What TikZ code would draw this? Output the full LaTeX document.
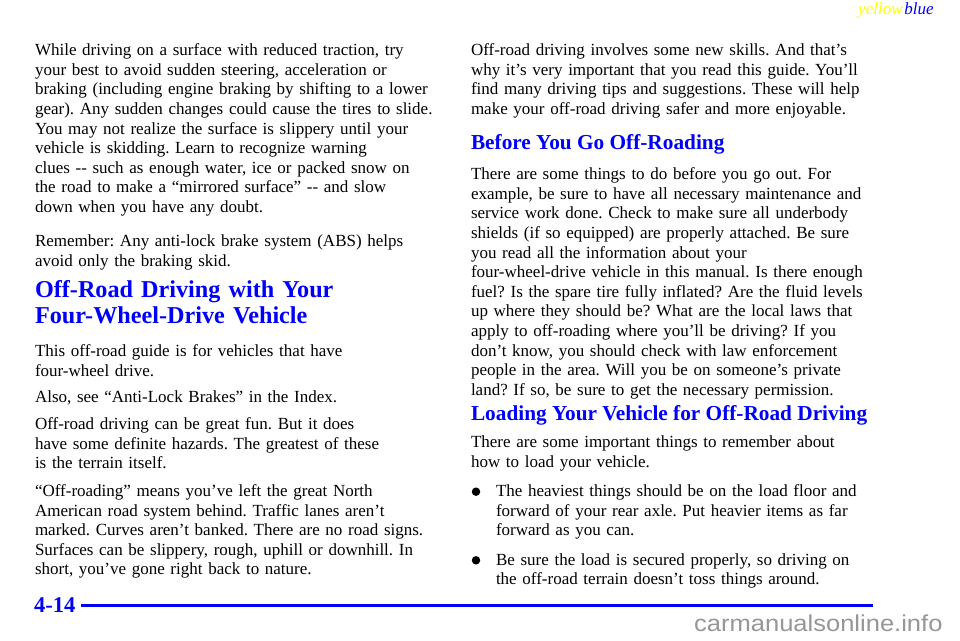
\documentclass[tikz,border=0pt]{standalone}
\usepackage{fontspec}
\setmainfont{Liberation Serif}
\newfontfamily\marksans{Liberation Sans}
\usetikzlibrary{positioning}
\frenchspacing

\definecolor{headblue}{RGB}{0,0,250}
\definecolor{tagyellow}{RGB}{255,255,0}
\definecolor{markgray}{RGB}{150,150,150}

\tikzset{
  para/.style={anchor=base west, inner sep=0pt, outer sep=0pt, text width=#1,
    align=left, font=\fontsize{17}{19.6}\selectfont},
  para/.default=440pt,
  bighead/.style={anchor=base west, inner sep=0pt, outer sep=0pt, text width=430pt,
    align=left, text=headblue, font=\bfseries\fontsize{24.2}{25.5}\selectfont},
  subhead/.style={anchor=base west, inner sep=0pt, outer sep=0pt,
    text=headblue, font=\bfseries\fontsize{21.3}{22}\selectfont},
  dot/.style={circle, fill=black, inner sep=0pt, minimum size=8.5pt}
}

\begin{document}
\begin{tikzpicture}[x=1pt, y=-1pt]
    \useasboundingbox[fill=white] (0,0) rectangle (960,640);

    % header tag
    \node[anchor=base west, inner sep=0pt, text=tagyellow, font=\itshape\fontsize{17}{17}\selectfont] (yellowtag) at (858,14) {yellow};
    \node[base right=1.5pt of yellowtag, inner sep=0pt, text=headblue, font=\itshape\fontsize{17}{17}\selectfont] (bluetag) {blue};

    % left column
    \node[para] (traction) at (35,55.7) {While driving on a surface with reduced traction, try\\
      your best to avoid sudden steering, acceleration or\\
      braking (including engine braking by shifting to a lower\\
      gear). Any sudden changes could cause the tires to slide.\\
      You may not realize the surface is slippery until your\\
      vehicle is skidding. Learn to recognize warning\\
      clues -{}- such as enough water, ice or packed snow on\\
      the road to make a “mirrored surface” -{}- and slow\\
      down when you have any doubt.};
    \node[para] (abs) at (35,246.5) {Remember: Any anti-lock brake system (ABS) helps\\
      avoid only the braking skid.};

    \node[bighead] (offhead) at (35,297.5) {Off-Road Driving with Your\\Four-Wheel-Drive Vehicle};

    \node[para] (guide) at (35,356.5) {This off-road guide is for vehicles that have\\
      four-wheel drive.};
    \node[para] (seealso) at (35,402.5) {Also, see “Anti-Lock Brakes” in the Index.};
    \node[para] (hazards) at (35,429.5) {Off-road driving can be great fun. But it does\\
      have some definite hazards. The greatest of these\\
      is the terrain itself.};
    \node[para] (nature) at (35,496.5) {“Off-roading” means you’ve left the great North\\
      American road system behind. Traffic lanes aren’t\\
      marked. Curves aren’t banked. There are no road signs.\\
      Surfaces can be slippery, rough, uphill or downhill. In\\
      short, you’ve gone right back to nature.};

    % right column
    \node[para] (skills) at (471,55.7) {Off-road driving involves some new skills. And that’s\\
      why it’s very important that you read this guide. You’ll\\
      find many driving tips and suggestions. These will help\\
      make your off-road driving safer and more enjoyable.};
    \node[subhead] (beforehead) at (471,149) {Before You Go Off-Roading};
    \node[para] (beforetext) at (471,179.7) {There are some things to do before you go out. For\\
      example, be sure to have all necessary maintenance and\\
      service work done. Check to make sure all underbody\\
      shields (if so equipped) are properly attached. Be sure\\
      you read all the information about your\\
      four-wheel-drive vehicle in this manual. Is there enough\\
      fuel? Is the spare tire fully inflated? Are the fluid levels\\
      up where they should be? What are the local laws that\\
      apply to off-roading where you’ll be driving? If you\\
      don’t know, you should check with law enforcement\\
      people in the area. Will you be on someone’s private\\
      land? If so, be sure to get the necessary permission.};
    \node[subhead] (loadhead) at (471,420.7) {Loading Your Vehicle for Off-Road Driving};
    \node[para] (loadtext) at (471,447.7) {There are some important things to remember about\\
      how to load your vehicle.};

    \node[dot] (markA) at (476,491.7) {};
    \node[para=420pt] (heavy) at (496,496.7) {The heaviest things should be on the load floor and\\
      forward of your rear axle. Put heavier items as far\\
      forward as you can.};
    \node[dot] (markB) at (476,560.3) {};
    \node[para=420pt] (secure) at (496,565.3) {Be sure the load is secured properly, so driving on\\
      the off-road terrain doesn’t toss things around.};

    % footer
    \node[anchor=base west, inner sep=0pt, text=headblue, font=\bfseries\fontsize{22.5}{22.5}\selectfont] (pageno) at (34,612) {4-14};
    \coordinate (ruleend) at (873,605);
    \draw[headblue, line width=3pt] (pageno.east |- ruleend) ++(5,0) coordinate (rulestart) -- (ruleend);
    \node[anchor=base east, inner sep=0pt, text=markgray, font=\marksans\fontsize{23}{23}\selectfont] (watermark) at (942.7,631.7) {\scalebox{1.11}[1]{carmanualsonline.info}};
\end{tikzpicture}
\end{document}
